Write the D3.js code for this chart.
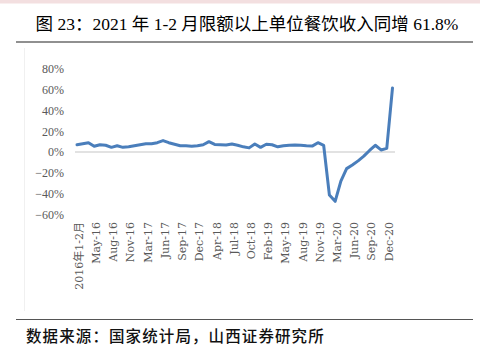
<!DOCTYPE html>
<meta charset="utf-8">
<style>
body { margin: 0; background: #fff; }
svg { display: block; }
.tick text { fill: #595959; }
.y-axis .tick text { font: 12px "Liberation Serif", "Noto Sans CJK SC", serif; }
.x-axis .tick text { font: 11px "DejaVu Serif", "Noto Sans CJK SC", serif; }
.title { font: 17.5px "Liberation Serif", "Noto Sans CJK SC", serif; fill: #000; }
.source { font: 500 15.5px "Noto Sans CJK SC", sans-serif; fill: #111; letter-spacing: 1.1px; }
.line { fill: none; stroke: #4a7ebb; stroke-width: 3px; stroke-linejoin: round; stroke-linecap: round; }
</style>
<svg width="480" height="346"></svg>
<script src="https://cdn.jsdelivr.net/npm/d3@7"></script>
<script>

// one point per month, Jan and Feb are reported together
var months = ["2016年1-2月", "Mar-16", "Apr-16", "May-16", "Jun-16", "Jul-16", "Aug-16", "Sep-16", "Oct-16", "Nov-16", "Dec-16",
  "Feb-17", "Mar-17", "Apr-17", "May-17", "Jun-17", "Jul-17", "Aug-17", "Sep-17", "Oct-17", "Nov-17", "Dec-17",
  "Feb-18", "Mar-18", "Apr-18", "May-18", "Jun-18", "Jul-18", "Aug-18", "Sep-18", "Oct-18", "Nov-18", "Dec-18",
  "Feb-19", "Mar-19", "Apr-19", "May-19", "Jun-19", "Jul-19", "Aug-19", "Sep-19", "Oct-19", "Nov-19", "Dec-19",
  "Feb-20", "Mar-20", "Apr-20", "May-20", "Jun-20", "Jul-20", "Aug-20", "Sep-20", "Oct-20", "Nov-20", "Dec-20",
  "Feb-21"];

var growth = [7, 8, 9, 5.5, 7, 6.5, 4.5, 6, 4.5, 5, 6,
  7, 8, 8, 9, 11, 9, 7.5, 6, 6, 5.5, 6,
  7, 10, 7.3, 7, 6.7, 7.7, 6.5, 5, 4, 7.7, 4.5,
  7.5, 7, 5, 6, 6.5, 6.7, 6.5, 6, 5.7, 9, 6.5,
  -41.5, -47.5, -28, -16, -12.5, -8.5, -4, 1.5, 6.5, 2, 3.5,
  61.8];

var yTicks = [80, 60, 40, 20, 0, -20, -40, -60];

var svg = d3.select("svg"),
    width = +svg.attr("width");

// page furniture
svg.append("rect").attr("x", 0).attr("y", 0).attr("width", width).attr("height", 3.5).attr("fill", "#f3dfe0");
svg.append("line").attr("x1", 24.5).attr("x2", 24.5).attr("y1", 48).attr("y2", 311)
    .attr("stroke", "#f0f0f0");

svg.append("text").attr("class", "title")
    .attr("x", 247).attr("y", 30).attr("text-anchor", "middle")
    .text("图 23：2021 年 1-2 月限额以上单位餐饮收入同增 61.8%");
svg.append("line").attr("x1", 16).attr("x2", 473).attr("y1", 42).attr("y2", 42)
    .attr("stroke", "#222").attr("stroke-width", 1.2);
svg.append("line").attr("x1", 16).attr("x2", 473).attr("y1", 319.5).attr("y2", 319.5)
    .attr("stroke", "#555").attr("stroke-width", 1.2);
svg.append("text").attr("class", "source")
    .attr("x", 26).attr("y", 341.5)
    .text("数据来源：国家统计局，山西证券研究所");

var x = d3.scalePoint()
    .domain(months)
    .range([77, 392.5]);

var y = d3.scaleLinear()
    .domain([-60, 80])
    .range([214.3, 69]);

// zero line
svg.append("line")
    .attr("x1", 75).attr("x2", 395)
    .attr("y1", y(0)).attr("y2", y(0))
    .attr("stroke", "#d9d9d9").attr("stroke-width", 1.5);

var yAxis = svg.append("g")
    .attr("class", "y-axis")
    .attr("transform", "translate(64,0)")
    .call(d3.axisLeft(y).tickValues(yTicks).tickSize(0).tickPadding(0)
      .tickFormat(function(d) { return (d < 0 ? "\u2212" + (-d) : d) + "%"; }));
yAxis.select(".domain").remove();

var xAxis = svg.append("g")
    .attr("class", "x-axis")
    .attr("transform", "translate(1.5,222)")
    .call(d3.axisBottom(x)
      .tickValues(months.filter(function(d, i) { return i % 3 === 0 && i < 55; }))
      .tickSize(0).tickPadding(0));
xAxis.select(".domain").remove();
xAxis.selectAll("text")
    .attr("transform", "rotate(-90)")
    .attr("x", 0).attr("y", 0).attr("dy", "0.35em")
    .style("text-anchor", "end");

var line = d3.line()
    .x(function(d, i) { return x(months[i]); })
    .y(function(d) { return y(d); });

svg.append("path")
    .datum(growth)
    .attr("class", "line")
    .attr("d", line);

</script>
